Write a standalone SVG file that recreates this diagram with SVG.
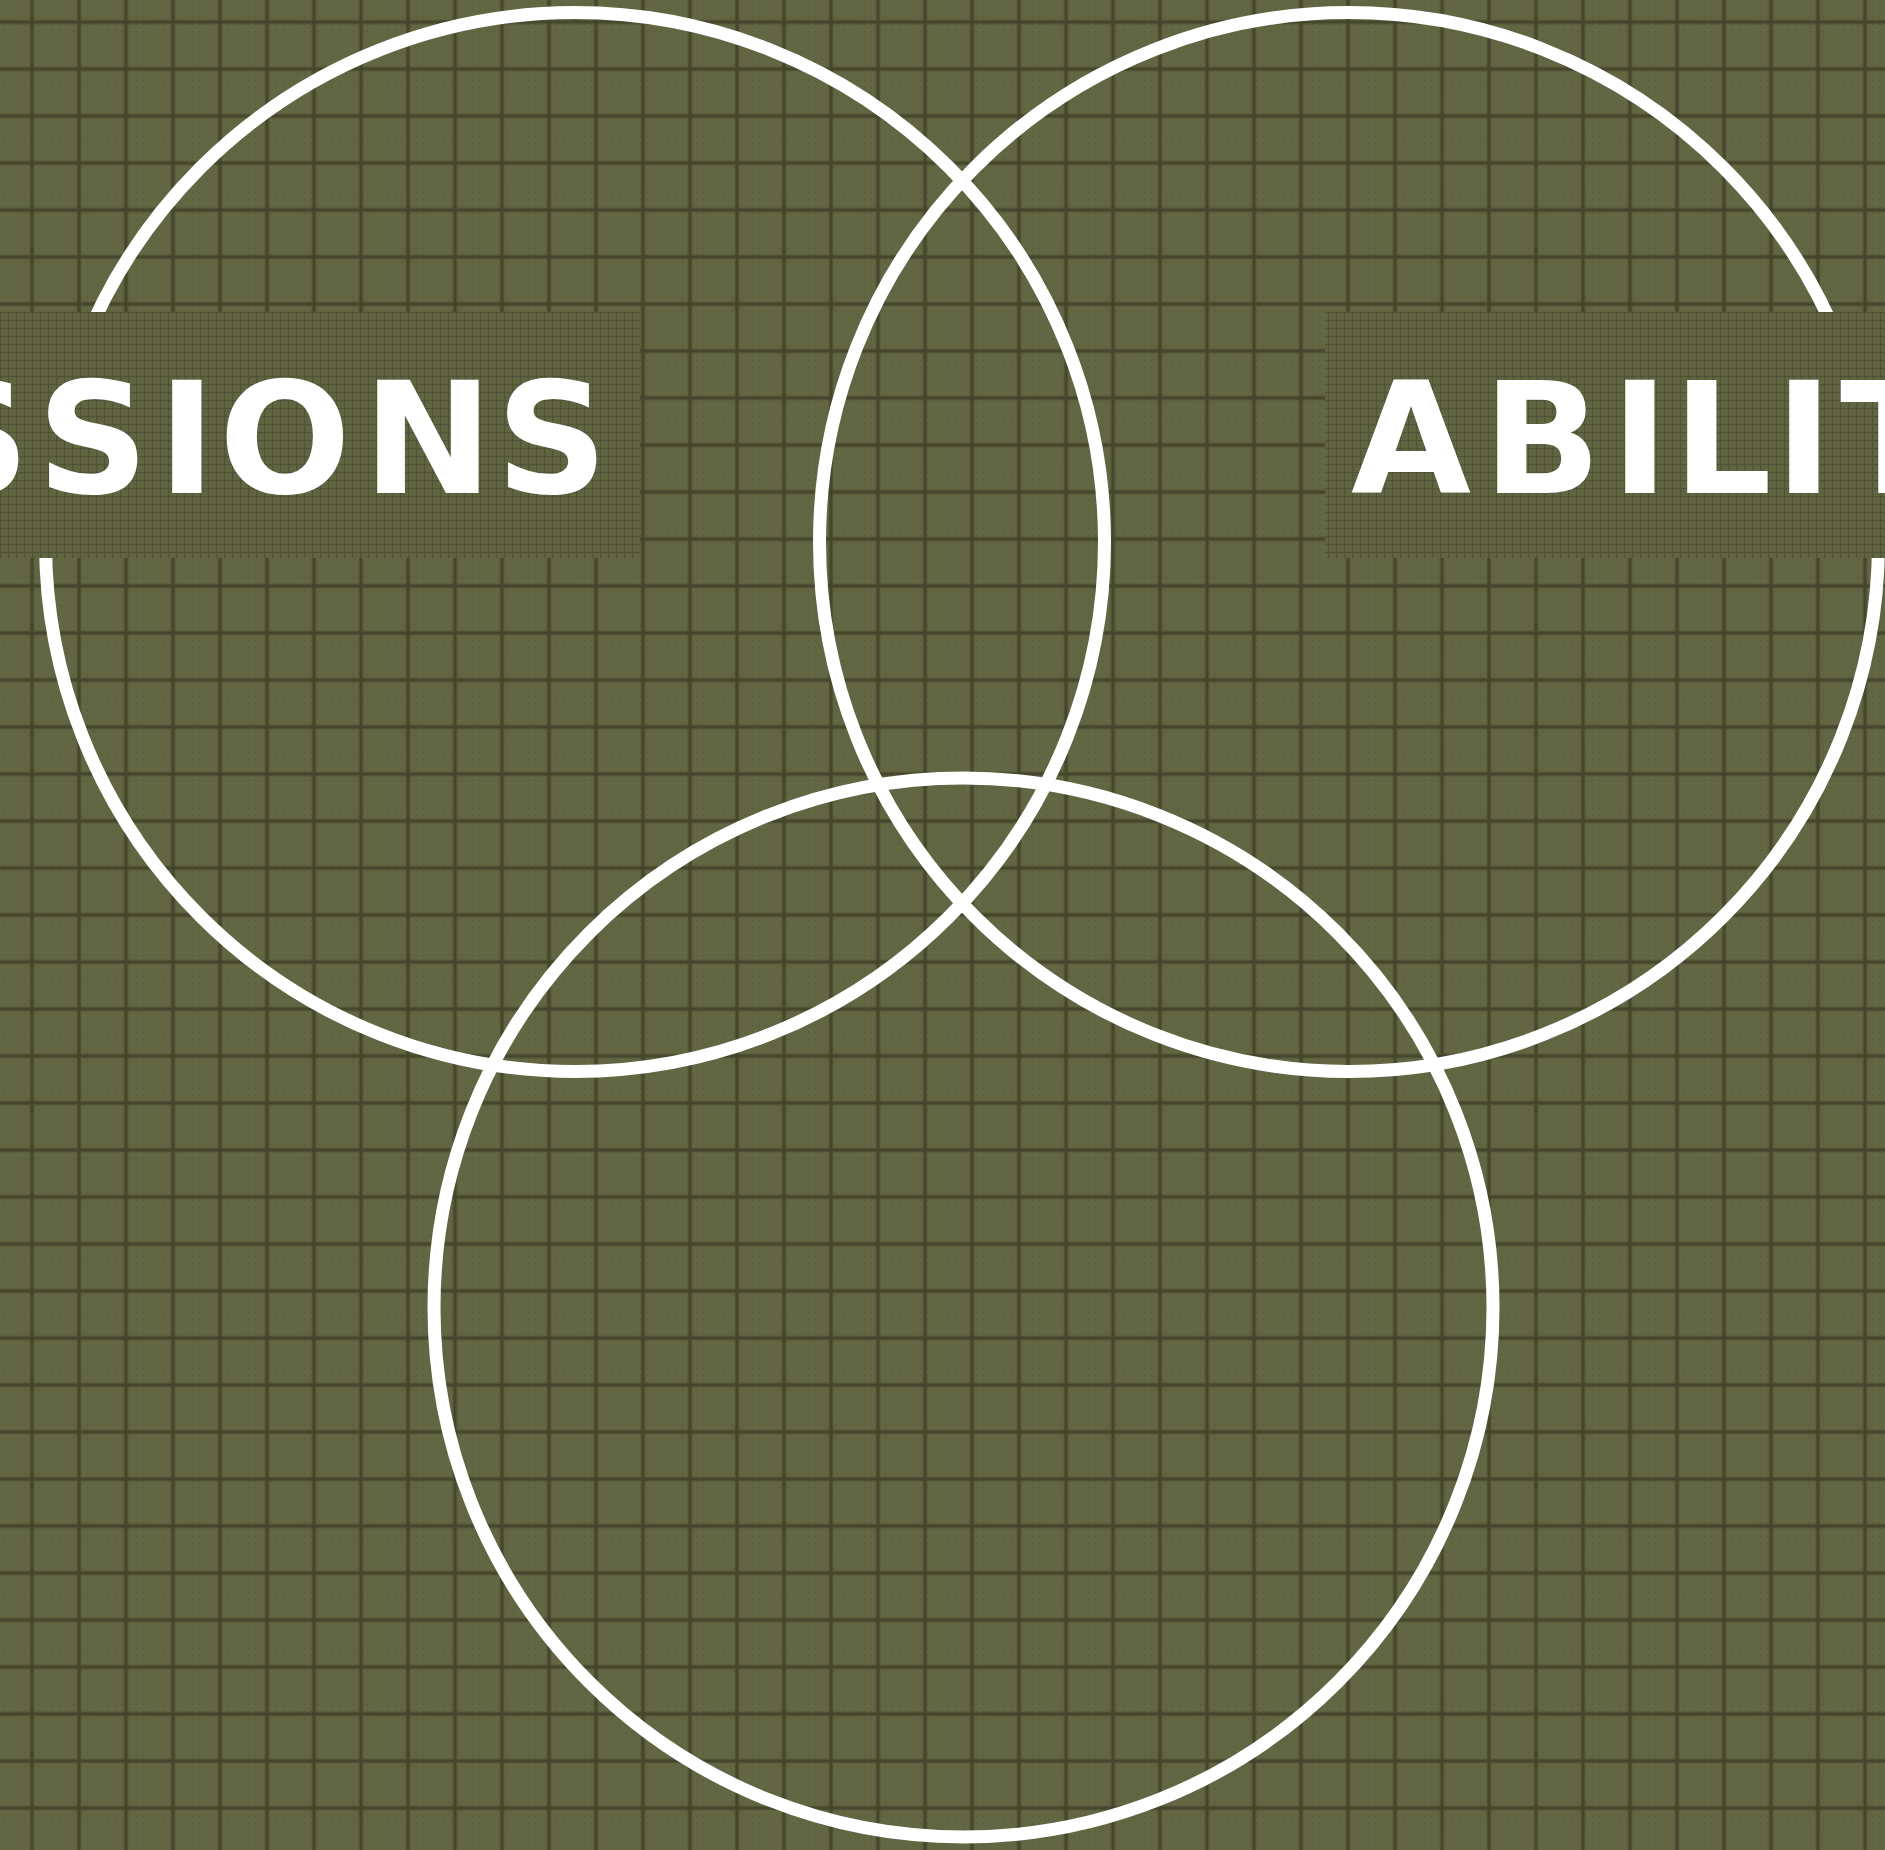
<svg xmlns="http://www.w3.org/2000/svg" width="1885" height="1850" viewBox="0 0 1885 1850">
  <defs>
    <pattern id="dots" patternUnits="userSpaceOnUse" width="7" height="7">
      <circle cx="3.5" cy="3.5" r="0.9" fill="#595d3a"/>
    </pattern>
    <pattern id="grid" patternUnits="userSpaceOnUse" x="8.5" y="-1.5" width="47" height="47">
      <rect x="21" y="0" width="5" height="47" fill="#4a4c2f" opacity="0.45"/>
      <rect x="0" y="21" width="47" height="5" fill="#4a4c2f" opacity="0.45"/>
      <rect x="22.3" y="0" width="2.4" height="47" fill="#43442a"/>
      <rect x="0" y="22.3" width="47" height="2.4" fill="#43442a"/>
    </pattern>
    <pattern id="fine" patternUnits="userSpaceOnUse" width="8" height="8">
      <rect x="0" y="0" width="1.2" height="8" fill="#4c4f33" opacity="0.8"/>
      <rect x="0" y="0" width="8" height="1.2" fill="#4c4f33" opacity="0.8"/>
    </pattern>
    <style>
      .ring { fill: none; stroke: #ffffff; stroke-width: 13; }
      .box { fill: #606441; }
      .label { font-family: "DejaVu Sans", "Liberation Sans", sans-serif; font-weight: 700; font-size: 155px; fill: #ffffff; }
    </style>
  </defs>

  <g id="background">
    <rect x="0" y="0" width="1885" height="1850" fill="#626643"/>
    <rect x="0" y="0" width="1885" height="1850" fill="url(#dots)"/>
    <rect x="0" y="0" width="1885" height="1850" fill="url(#grid)"/>
  </g>

  <g id="circles">
    <g id="circle-left"><circle class="ring" cx="575" cy="542" r="529.5"/></g>
    <g id="circle-right"><circle class="ring" cx="1349" cy="542" r="529.5"/></g>
    <g id="circle-bottom"><circle class="ring" cx="963.5" cy="1307.5" r="529.5"/></g>
  </g>

  <g id="connectors"></g>

  <g id="label-left">
    <rect class="box" x="0" y="312" width="640" height="246"/>
    <rect x="0" y="312" width="640" height="246" fill="url(#fine)"/>
    <text class="label" x="-82 37 158 219 363 496" y="493">SSIONS</text>
  </g>

  <g id="label-right">
    <rect class="box" x="1325" y="312" width="560" height="246"/>
    <rect x="1325" y="312" width="560" height="246" fill="url(#fine)"/>
    <text class="label" x="1351 1483 1611 1673 1775 1840" y="493">ABILIT</text>
  </g>
</svg>
